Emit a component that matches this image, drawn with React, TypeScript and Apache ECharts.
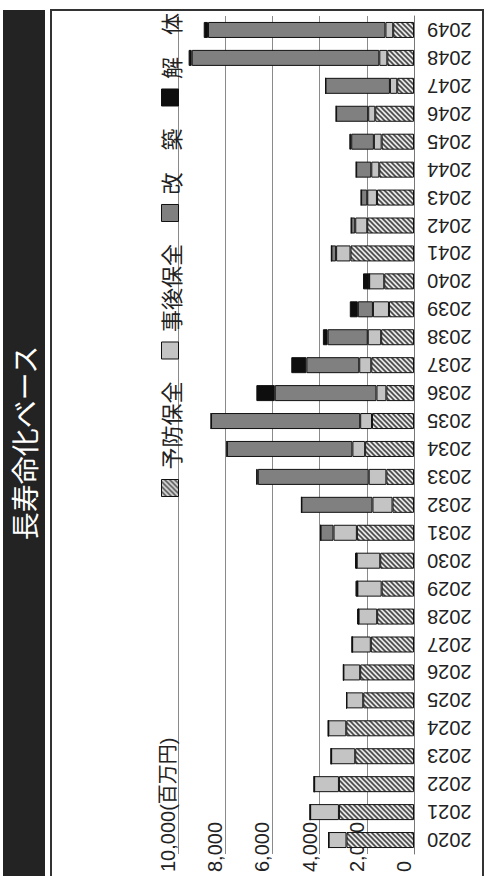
import React, { useEffect, useRef } from 'react';
import * as echarts from 'echarts';

const years = [
  '2020', '2021', '2022', '2023', '2024', '2025', '2026', '2027', '2028', '2029',
  '2030', '2031', '2032', '2033', '2034', '2035', '2036', '2037', '2038', '2039',
  '2040', '2041', '2042', '2043', '2044', '2045', '2046', '2047', '2048', '2049',
];

// 予防保全
const preventive = [
  2860, 3180, 3180, 2490, 2870, 2150, 2280, 1830, 1560, 1370,
  1430, 2420, 910, 1170, 2070, 1780, 1170, 1810, 1390, 1060,
  1260, 2690, 1980, 1570, 1470, 1370, 1640, 710, 1130, 880,
];
// 事後保全
const corrective = [
  760, 1220, 1050, 1020, 760, 710, 710, 790, 790, 1030,
  1000, 990, 850, 750, 540, 500, 420, 510, 570, 680,
  640, 610, 510, 410, 340, 330, 300, 310, 340, 330,
];
// 改築
const rebuild = [
  0, 0, 0, 0, 0, 0, 0, 0, 0, 0,
  0, 550, 3010, 4700, 5320, 6320, 4310, 2240, 1700, 640,
  0, 200, 170, 260, 640, 960, 1360, 2730, 7950, 7520,
];
// 解体
const demolition = [
  0, 0, 0, 0, 0, 0, 0, 0, 60, 80,
  70, 0, 0, 70, 0, 0, 780, 640, 200, 340,
  260, 0, 0, 0, 0, 80, 0, 0, 130, 180,
];

const seriesNames = ['予防保全', '事後保全', '改　築', '解　体'];
const titleText = '長寿命化ベース';
const unitText = '(百万円)';
const valueMin = 0;
const valueMax = 10000;
const valueInterval = 2000;

const FONT = '"Noto Sans CJK JP", "Noto Sans", sans-serif';
const NUM_FONT = '"Liberation Sans", "Noto Sans CJK JP", sans-serif';

function makeHatch(): HTMLCanvasElement {
  const s = 5;
  const c = document.createElement('canvas');
  c.width = s;
  c.height = s;
  const ctx = c.getContext('2d')!;
  ctx.fillStyle = '#e6e6e6';
  ctx.fillRect(0, 0, s, s);
  ctx.strokeStyle = '#4a4a4a';
  ctx.lineWidth = 1.6;
  ctx.beginPath();
  ctx.moveTo(0, s);
  ctx.lineTo(s, 0);
  ctx.moveTo(-1, 1);
  ctx.lineTo(1, -1);
  ctx.moveTo(s - 1, s + 1);
  ctx.lineTo(s + 1, s - 1);
  ctx.stroke();
  return c;
}

export default function App() {
  const ref = useRef<HTMLDivElement>(null);

  useEffect(() => {
    if (!ref.current) return;
    const chart = echarts.init(ref.current, null, { renderer: 'svg', width: 876, height: 493 });
    const hatch = makeHatch();
    const hatchColor: any = { image: hatch, repeat: 'repeat', imageWidth: 5, imageHeight: 5 };
    const colors: any[] = [hatchColor, '#c4c4c4', '#808080', '#0e0e0e'];
    const datasets = [preventive, corrective, rebuild, demolition];

    const option: any = {
      animation: false,
      backgroundColor: '#ffffff',
      textStyle: { fontFamily: FONT },
      grid: { left: 22, right: 16, top: 178, bottom: 79, containLabel: false },
      legend: {
        data: seriesNames,
        left: 374,
        top: 154,
        orient: 'horizontal',
        icon: 'rect',
        itemWidth: 17,
        itemHeight: 17,
        itemGap: 22,
        itemStyle: { borderColor: '#111', borderWidth: 1 },
        textStyle: { fontSize: 22, color: '#222', fontFamily: FONT, padding: [0, 0, 0, 5] },
      },
      xAxis: {
        type: 'category',
        data: years,
        boundaryGap: true,
        axisLine: { show: true, lineStyle: { color: '#777', width: 1 } },
        axisTick: { show: false },
        axisLabel: {
          rotate: 90,
          interval: 0,
          margin: 13,
          fontSize: 20,
          color: '#222',
          fontFamily: NUM_FONT,
        },
      },
      yAxis: {
        type: 'value',
        min: valueMin,
        max: valueMax,
        interval: valueInterval,
        axisLine: { show: false },
        axisTick: { show: false },
        splitLine: { show: true, lineStyle: { color: '#8a8a8a', width: 1 } },
        axisLabel: {
          align: 'left',
          verticalAlign: 'bottom',
          margin: 18,
          fontSize: 20,
          color: '#222',
          fontFamily: NUM_FONT,
          formatter: (v: number) => {
            const s = Number(v).toLocaleString('en-US');
            return v === valueMax ? s + unitText : s;
          },
        },
      },
      series: seriesNames.map((name, i) => ({
        type: 'bar',
        name,
        stack: 'total',
        data: datasets[i],
        barWidth: 16,
        itemStyle: { color: colors[i], borderColor: '#111', borderWidth: 1 },
      })),
      graphic: [
        {
          type: 'rect',
          silent: true,
          z: -10,
          shape: { x: -4, y: 3, width: 870, height: 42 },
          style: { fill: '#232323' },
        },
        {
          type: 'text',
          silent: true,
          z: 10,
          x: 433,
          y: 24,
          style: {
            text: titleText,
            fill: '#ffffff',
            fontSize: 28,
            fontFamily: FONT,
            align: 'center',
            verticalAlign: 'middle',
          },
        },
        {
          type: 'rect',
          silent: true,
          z: -10,
          shape: { x: -4, y: 51, width: 870, height: 432 },
          style: { fill: 'none', stroke: '#333', lineWidth: 2 },
        },
      ],
    };
    chart.setOption(option);
    return () => chart.dispose();
  }, []);

  return (
    <div
      style={{
        position: 'fixed',
        left: 0,
        top: 0,
        width: 493,
        height: 876,
        overflow: 'hidden',
        background: '#fff',
      }}
    >
      <div
        ref={ref}
        style={{
          position: 'absolute',
          left: 0,
          top: 0,
          width: 876,
          height: 493,
          transformOrigin: '0 0',
          transform: 'translateY(876px) rotate(-90deg)',
        }}
      />
    </div>
  );
}
